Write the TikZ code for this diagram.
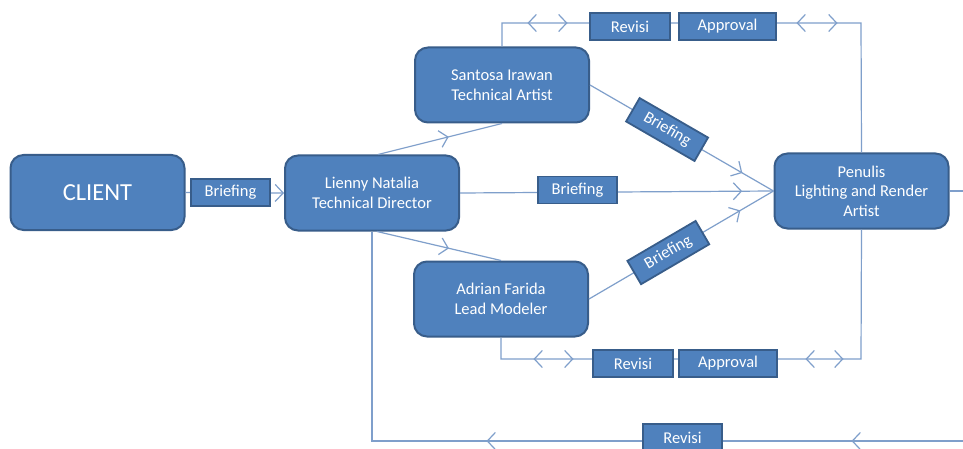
\documentclass[tikz,border=0pt]{standalone}
\usepackage{fontspec}
\setmainfont{Carlito}
\usetikzlibrary{arrows.meta,decorations.markings}
\definecolor{boxfill}{HTML}{4F81BD}
\definecolor{boxline}{HTML}{385D8A}
\definecolor{conncol}{HTML}{7F9FCB}
\tikzset{
  chev/.tip={Straight Barb[length=8pt,width=17pt]},
  bigbox/.style={draw=boxline, line width=2pt, fill=boxfill, rounded corners=13pt,
    minimum width=174pt, minimum height=75pt, inner sep=0pt, text=white, align=center,
    font=\fontsize{16.5}{19.5}\selectfont},
  lbl/.style={draw=boxline, line width=1.8pt, fill=boxfill, minimum height=27pt,
    inner sep=0pt, text=white, font=\fontsize{16.5}{19.5}\selectfont},
  conn/.style={draw=conncol, line width=1.2pt},
  midarrow/.style={decoration={markings, mark=at position #1 with {\arrow{chev}}}, postaction={decorate}},
}
\begin{document}
\begin{tikzpicture}[x=1pt,y=-1pt]
\clip (0,0) rectangle (963,449);
\fill[white] (0,0) rectangle (963,449);
% main nodes
\node[bigbox, font=\fontsize{24.5}{28}\selectfont] (client) at (97.5,192.5) {CLIENT};
\node[bigbox] (lienny) at (372,193) {Lienny Natalia\\Technical Director};
\node[bigbox] (santosa) at (502,85) {Santosa Irawan\\Technical Artist};
\node[bigbox] (adrian) at (501,299) {Adrian Farida\\Lead Modeler};
\node[bigbox] (penulis) at (861.5,191) {Penulis\\Lighting and Render\\Artist};
% corner coordinates
\coordinate (cT) at (861,23);
\coordinate (cB) at (861,359);
\coordinate (cR) at (975,441);
% connectors
\draw[conn, -chev] (client.east) -- (lienny.west);
\draw[conn, midarrow=0.57] ([xshift=6pt]lienny.north) -- (santosa.south);
\draw[conn, midarrow=0.58] ([xshift=5pt]lienny.south) -- (adrian.north);
\draw[conn, midarrow=0.9] (lienny.east) -- (penulis.west);
\draw[conn, midarrow=0.83] (santosa.east) -- node[lbl, sloped, pos=0.42, minimum width=79pt] (b2) {Briefing} (penulis.west);
\draw[conn, midarrow=0.82] (adrian.east) -- node[lbl, sloped, pos=0.43, minimum width=79pt] (b3) {Briefing} (penulis.west);
\draw[conn, decoration={markings,
    mark=at position 49pt with {\arrowreversed{chev}},
    mark=at position 89pt with {\arrow{chev}},
    mark=at position 318pt with {\arrowreversed{chev}},
    mark=at position 359pt with {\arrow{chev}}}, postaction={decorate}]
  (santosa.north) |- (cT) -- (penulis.north);
\draw[conn, decoration={markings,
    mark=at position 54pt with {\arrowreversed{chev}},
    mark=at position 94pt with {\arrow{chev}},
    mark=at position 326pt with {\arrowreversed{chev}},
    mark=at position 364pt with {\arrow{chev}}}, postaction={decorate}]
  (adrian.south) |- (cB) -- (penulis.south);
\draw[conn, decoration={markings,
    mark=at position 399pt with {\arrow{chev}},
    mark=at position 764pt with {\arrow{chev}}}, postaction={decorate}]
  (penulis.east) -| (cR) -| (lienny.south);
% labels
\node[lbl, minimum width=79pt] (b1) at (230.5,192.5) {Briefing};
\node[lbl, minimum width=79pt] (bm) at (577.5,190) {Briefing};
\node[lbl, minimum width=80pt] (rt) at (630,26.5) {Revisi};
\node[lbl, minimum width=97pt] (at) at (727.5,26.5) {Approval};
\node[lbl, minimum width=80pt] (rb) at (633,363.5) {Revisi};
\node[lbl, minimum width=98pt] (ab) at (728,363.5) {Approval};
\node[lbl, minimum width=79pt] (rl) at (682.5,437.5) {Revisi};
\end{tikzpicture}
\end{document}
